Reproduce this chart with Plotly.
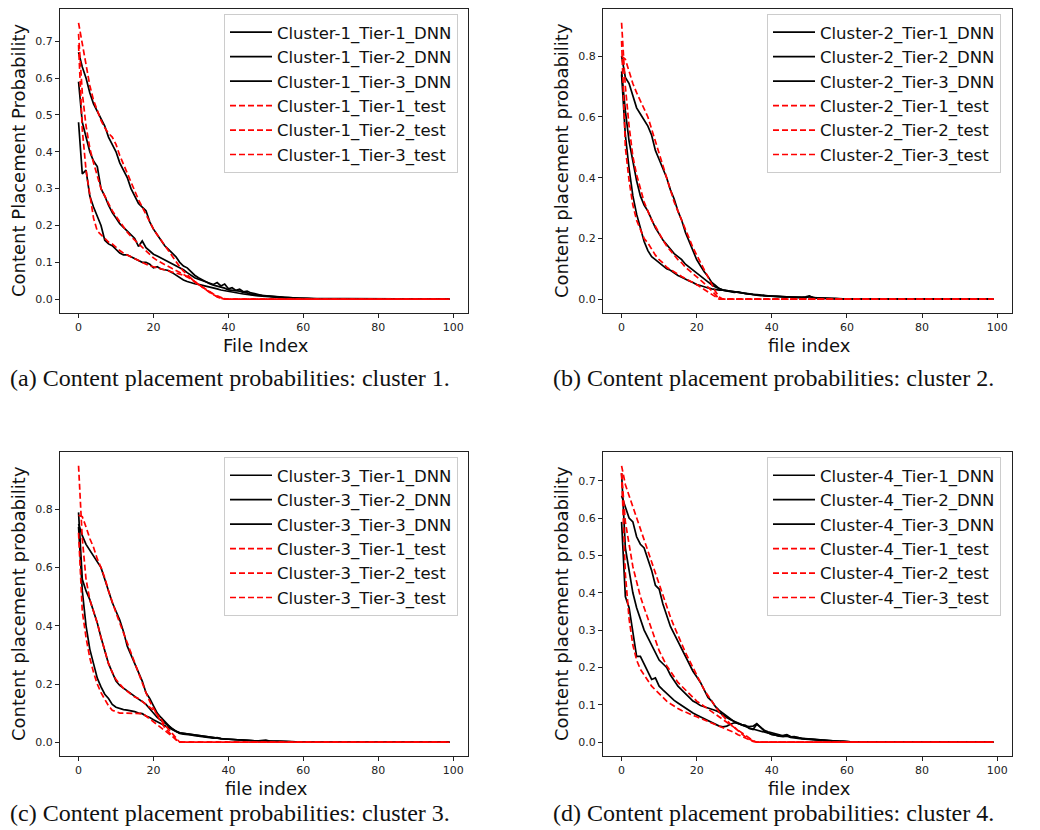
import plotly.graph_objects as go

# ---------------- data: placement probability per file index ----------------
# Each list starts at file index 0; indices past the end of a list are 0.
c1_t1_dnn = [0.67, 0.63, 0.60, 0.56, 0.53, 0.51, 0.49, 0.47, 0.44, 0.42, 0.40, 0.37, 0.35, 0.33, 0.30, 0.28,
             0.26, 0.25, 0.24, 0.21, 0.19, 0.175, 0.16, 0.145, 0.135, 0.125, 0.115, 0.10, 0.09, 0.085, 0.075,
             0.065, 0.058, 0.052, 0.047, 0.042, 0.038, 0.036, 0.032, 0.03, 0.025, 0.024, 0.021, 0.022, 0.018,
             0.017, 0.013, 0.012, 0.01, 0.009, 0.008, 0.007, 0.008, 0.006, 0.005, 0.004, 0.004, 0.003, 0.003,
             0.002, 0.002, 0.002, 0.001, 0.001, 0.001, 0.0]
c1_t2_dnn = [0.59, 0.48, 0.44, 0.40, 0.375, 0.36, 0.30, 0.28, 0.255, 0.235, 0.22, 0.205, 0.195, 0.185, 0.175,
             0.165, 0.143, 0.158, 0.14, 0.13, 0.122, 0.117, 0.112, 0.107, 0.102, 0.097, 0.092, 0.087, 0.08,
             0.072, 0.064, 0.058, 0.054, 0.05, 0.046, 0.043, 0.04, 0.045, 0.036, 0.041, 0.028, 0.031, 0.024,
             0.027, 0.02, 0.022, 0.017, 0.015, 0.012, 0.01, 0.009, 0.008, 0.007, 0.006, 0.005, 0.004, 0.004,
             0.003, 0.003, 0.002, 0.002, 0.001, 0.001, 0.001, 0.0]
c1_t3_dnn = [0.48, 0.34, 0.35, 0.28, 0.25, 0.225, 0.20, 0.16, 0.15, 0.145, 0.135, 0.125, 0.12, 0.12, 0.115,
             0.11, 0.105, 0.10, 0.10, 0.095, 0.085, 0.088, 0.082, 0.08, 0.078, 0.072, 0.065, 0.058, 0.052,
             0.048, 0.044, 0.042, 0.04, 0.038, 0.035, 0.033, 0.03, 0.028, 0.025, 0.023, 0.02, 0.019, 0.017,
             0.016, 0.014, 0.013, 0.011, 0.01, 0.009, 0.008, 0.007, 0.006, 0.005, 0.005, 0.004, 0.003, 0.003,
             0.002, 0.002, 0.002, 0.001, 0.001, 0.001, 0.001, 0.0]
c1_t1_test = [0.75, 0.69, 0.63, 0.58, 0.54, 0.51, 0.485, 0.465, 0.45, 0.44, 0.42, 0.39, 0.365, 0.34, 0.315,
              0.29, 0.27, 0.25, 0.23, 0.21, 0.19, 0.175, 0.16, 0.145, 0.13, 0.115, 0.10, 0.088, 0.076, 0.066,
              0.056, 0.048, 0.04, 0.033, 0.026, 0.02, 0.014, 0.009, 0.005, 0.001, 0.0]
c1_t2_test = [0.72, 0.56, 0.47, 0.41, 0.37, 0.335, 0.30, 0.28, 0.26, 0.24, 0.225, 0.21, 0.195, 0.182, 0.17,
              0.16, 0.15, 0.14, 0.13, 0.12, 0.112, 0.105, 0.099, 0.093, 0.088, 0.083, 0.078, 0.073, 0.068,
              0.062, 0.056, 0.048, 0.04, 0.032, 0.025, 0.018, 0.012, 0.006, 0.002, 0.0]
c1_t3_test = [0.69, 0.46, 0.35, 0.28, 0.22, 0.185, 0.175, 0.165, 0.155, 0.15, 0.14, 0.132, 0.125, 0.12, 0.115,
              0.11, 0.105, 0.10, 0.095, 0.09, 0.088, 0.085, 0.083, 0.08, 0.078, 0.075, 0.072, 0.068, 0.065,
              0.06, 0.055, 0.047, 0.04, 0.033, 0.026, 0.019, 0.012, 0.006, 0.002, 0.0]

c2_t1_dnn = [0.80, 0.73, 0.71, 0.67, 0.63, 0.61, 0.59, 0.57, 0.54, 0.49, 0.46, 0.43, 0.40, 0.36, 0.33, 0.29,
             0.26, 0.22, 0.19, 0.16, 0.13, 0.11, 0.09, 0.075, 0.055, 0.045, 0.035, 0.03, 0.028, 0.025, 0.022,
             0.024, 0.02, 0.018, 0.017, 0.015, 0.014, 0.013, 0.012, 0.011, 0.01, 0.01, 0.009, 0.008, 0.008,
             0.007, 0.007, 0.006, 0.006, 0.008, 0.011, 0.005, 0.004, 0.004, 0.003, 0.003, 0.002, 0.002, 0.001,
             0.001, 0.0]
c2_t2_dnn = [0.75, 0.62, 0.52, 0.45, 0.39, 0.34, 0.31, 0.29, 0.26, 0.235, 0.215, 0.195, 0.18, 0.165, 0.15,
             0.14, 0.13, 0.115, 0.105, 0.095, 0.085, 0.075, 0.065, 0.055, 0.047, 0.04, 0.035, 0.03, 0.028,
             0.026, 0.023, 0.021, 0.02, 0.018, 0.016, 0.015, 0.013, 0.012, 0.011, 0.01, 0.01, 0.009, 0.008,
             0.008, 0.007, 0.007, 0.006, 0.006, 0.005, 0.005, 0.009, 0.005, 0.004, 0.004, 0.003, 0.003, 0.002,
             0.002, 0.001, 0.001, 0.0]
c2_t3_dnn = [0.74, 0.54, 0.43, 0.34, 0.28, 0.23, 0.19, 0.16, 0.14, 0.13, 0.12, 0.11, 0.10, 0.095, 0.085,
             0.078, 0.072, 0.065, 0.06, 0.055, 0.048, 0.045, 0.04, 0.037, 0.034, 0.031, 0.03, 0.03, 0.028,
             0.026, 0.024, 0.022, 0.02, 0.019, 0.017, 0.016, 0.015, 0.013, 0.012, 0.011, 0.01, 0.01, 0.009,
             0.008, 0.008, 0.007, 0.006, 0.006, 0.005, 0.005, 0.008, 0.005, 0.004, 0.003, 0.003, 0.002, 0.002,
             0.001, 0.001, 0.001, 0.0]
c2_t1_test = [0.80, 0.79, 0.75, 0.71, 0.68, 0.655, 0.63, 0.60, 0.56, 0.52, 0.48, 0.44, 0.40, 0.36, 0.32,
              0.29, 0.26, 0.225, 0.20, 0.17, 0.145, 0.12, 0.10, 0.07, 0.045, 0.025, 0.007, 0.0]
c2_t2_test = [0.91, 0.70, 0.57, 0.47, 0.41, 0.36, 0.32, 0.29, 0.26, 0.24, 0.215, 0.195, 0.175, 0.16, 0.145,
              0.13, 0.12, 0.105, 0.095, 0.085, 0.075, 0.065, 0.052, 0.04, 0.028, 0.015, 0.0]
c2_t3_test = [0.85, 0.50, 0.39, 0.31, 0.26, 0.23, 0.20, 0.185, 0.165, 0.145, 0.13, 0.12, 0.105, 0.097, 0.09,
              0.082, 0.075, 0.068, 0.062, 0.055, 0.048, 0.04, 0.032, 0.025, 0.017, 0.009, 0.0]

c3_t1_dnn = [0.75, 0.71, 0.68, 0.66, 0.64, 0.62, 0.60, 0.56, 0.52, 0.48, 0.45, 0.42, 0.38, 0.33, 0.30, 0.27,
             0.24, 0.21, 0.17, 0.15, 0.125, 0.10, 0.085, 0.07, 0.058, 0.045, 0.037, 0.03, 0.028, 0.027, 0.025,
             0.022, 0.02, 0.018, 0.016, 0.015, 0.014, 0.016, 0.012, 0.011, 0.01, 0.009, 0.008, 0.007, 0.007,
             0.006, 0.006, 0.005, 0.005, 0.005, 0.007, 0.004, 0.004, 0.003, 0.003, 0.002, 0.002, 0.002, 0.001,
             0.001, 0.0]
c3_t2_dnn = [0.79, 0.56, 0.52, 0.49, 0.45, 0.41, 0.36, 0.31, 0.27, 0.24, 0.21, 0.195, 0.185, 0.175, 0.165,
             0.155, 0.148, 0.14, 0.13, 0.115, 0.10, 0.085, 0.075, 0.065, 0.055, 0.045, 0.038, 0.032, 0.03,
             0.028, 0.026, 0.024, 0.022, 0.02, 0.018, 0.016, 0.014, 0.013, 0.012, 0.011, 0.01, 0.009, 0.008,
             0.008, 0.007, 0.006, 0.006, 0.005, 0.005, 0.004, 0.005, 0.004, 0.003, 0.003, 0.002, 0.002, 0.002,
             0.001, 0.001, 0.001, 0.0]
c3_t3_dnn = [0.74, 0.52, 0.40, 0.32, 0.27, 0.22, 0.19, 0.165, 0.15, 0.13, 0.12, 0.115, 0.112, 0.11, 0.108,
             0.105, 0.10, 0.098, 0.09, 0.085, 0.077, 0.07, 0.063, 0.056, 0.05, 0.043, 0.037, 0.032, 0.03, 0.028,
             0.026, 0.024, 0.022, 0.02, 0.018, 0.016, 0.015, 0.013, 0.012, 0.011, 0.01, 0.009, 0.008, 0.007,
             0.007, 0.006, 0.006, 0.005, 0.005, 0.004, 0.004, 0.003, 0.003, 0.003, 0.002, 0.002, 0.002, 0.001,
             0.001, 0.001, 0.0]
c3_t1_test = [0.78, 0.775, 0.74, 0.70, 0.67, 0.63, 0.60, 0.565, 0.52, 0.48, 0.445, 0.41, 0.375, 0.34, 0.31,
              0.27, 0.235, 0.20, 0.17, 0.14, 0.115, 0.09, 0.07, 0.05, 0.035, 0.02, 0.008, 0.0]
c3_t2_test = [0.95, 0.70, 0.56, 0.49, 0.45, 0.41, 0.36, 0.31, 0.27, 0.24, 0.215, 0.20, 0.185, 0.175, 0.165,
              0.155, 0.15, 0.14, 0.13, 0.12, 0.11, 0.095, 0.08, 0.06, 0.045, 0.03, 0.015, 0.0]
c3_t3_test = [0.72, 0.45, 0.36, 0.29, 0.24, 0.20, 0.17, 0.145, 0.125, 0.11, 0.105, 0.10, 0.10, 0.10, 0.10,
              0.10, 0.10, 0.098, 0.09, 0.08, 0.07, 0.06, 0.05, 0.04, 0.03, 0.018, 0.007, 0.0]

c4_t1_dnn = [0.66, 0.63, 0.60, 0.59, 0.55, 0.53, 0.52, 0.49, 0.46, 0.42, 0.41, 0.37, 0.34, 0.31, 0.29, 0.27,
             0.25, 0.23, 0.21, 0.19, 0.175, 0.16, 0.14, 0.12, 0.11, 0.095, 0.085, 0.077, 0.07, 0.063, 0.055,
             0.05, 0.046, 0.043, 0.042, 0.043, 0.05, 0.04, 0.03, 0.025, 0.02, 0.019, 0.016, 0.018, 0.02, 0.015,
             0.014, 0.012, 0.01, 0.009, 0.008, 0.007, 0.006, 0.005, 0.004, 0.004, 0.003, 0.003, 0.002, 0.002,
             0.001, 0.001, 0.0]
c4_t2_dnn = [0.72, 0.52, 0.46, 0.40, 0.36, 0.33, 0.30, 0.28, 0.26, 0.24, 0.22, 0.21, 0.20, 0.18, 0.165, 0.15,
             0.14, 0.13, 0.12, 0.11, 0.105, 0.098, 0.095, 0.092, 0.088, 0.085, 0.08, 0.072, 0.066, 0.06, 0.055,
             0.05, 0.047, 0.045, 0.037, 0.034, 0.048, 0.04, 0.032, 0.028, 0.025, 0.022, 0.02, 0.017, 0.019,
             0.014, 0.015, 0.012, 0.01, 0.009, 0.008, 0.007, 0.006, 0.005, 0.005, 0.004, 0.003, 0.003, 0.002,
             0.002, 0.001, 0.001, 0.0]
c4_t3_dnn = [0.59, 0.39, 0.36, 0.30, 0.23, 0.23, 0.21, 0.19, 0.168, 0.172, 0.15, 0.14, 0.13, 0.12, 0.112,
             0.105, 0.098, 0.09, 0.085, 0.078, 0.073, 0.068, 0.063, 0.058, 0.053, 0.048, 0.043, 0.041, 0.043,
             0.048, 0.052, 0.05, 0.045, 0.042, 0.038, 0.035, 0.032, 0.03, 0.026, 0.023, 0.02, 0.018, 0.016,
             0.015, 0.016, 0.013, 0.011, 0.01, 0.009, 0.008, 0.008, 0.007, 0.006, 0.005, 0.004, 0.004, 0.003,
             0.003, 0.002, 0.002, 0.001, 0.001, 0.0]
c4_t1_test = [0.74, 0.69, 0.66, 0.63, 0.60, 0.57, 0.54, 0.51, 0.48, 0.45, 0.42, 0.39, 0.36, 0.335, 0.31,
              0.285, 0.26, 0.24, 0.22, 0.20, 0.18, 0.16, 0.14, 0.125, 0.11, 0.095, 0.08, 0.07, 0.058, 0.048,
              0.04, 0.03, 0.022, 0.014, 0.008, 0.003, 0.0]
c4_t2_test = [0.72, 0.59, 0.53, 0.47, 0.43, 0.39, 0.36, 0.33, 0.30, 0.27, 0.245, 0.225, 0.205, 0.19, 0.175,
              0.16, 0.15, 0.14, 0.13, 0.12, 0.11, 0.103, 0.096, 0.089, 0.082, 0.075, 0.068, 0.061, 0.054, 0.047,
              0.04, 0.032, 0.025, 0.018, 0.01, 0.004, 0.0]
c4_t3_test = [0.72, 0.45, 0.33, 0.26, 0.22, 0.195, 0.18, 0.165, 0.15, 0.14, 0.13, 0.12, 0.11, 0.103, 0.096,
              0.09, 0.085, 0.08, 0.076, 0.072, 0.068, 0.064, 0.06, 0.056, 0.052, 0.048, 0.044, 0.04, 0.036,
              0.031, 0.026, 0.02, 0.015, 0.01, 0.005, 0.002, 0.0]

N_FILES = 100
file_index = list(range(N_FILES))

panels = [
    dict(cluster=1, dnn=[c1_t1_dnn, c1_t2_dnn, c1_t3_dnn], test=[c1_t1_test, c1_t2_test, c1_t3_test],
         ylabel="Content Placement Probability", xlabel="File Index", dtick=0.1,
         caption="(a) Content placement probabilities: cluster 1."),
    dict(cluster=2, dnn=[c2_t1_dnn, c2_t2_dnn, c2_t3_dnn], test=[c2_t1_test, c2_t2_test, c2_t3_test],
         ylabel="Content placement probability", xlabel="file index", dtick=0.2,
         caption="(b) Content placement probabilities: cluster 2."),
    dict(cluster=3, dnn=[c3_t1_dnn, c3_t2_dnn, c3_t3_dnn], test=[c3_t1_test, c3_t2_test, c3_t3_test],
         ylabel="Content placement probability", xlabel="file index", dtick=0.2,
         caption="(c) Content placement probabilities: cluster 3."),
    dict(cluster=4, dnn=[c4_t1_dnn, c4_t2_dnn, c4_t3_dnn], test=[c4_t1_test, c4_t2_test, c4_t3_test],
         ylabel="Content placement probability", xlabel="file index", dtick=0.1,
         caption="(d) Content placement probabilities: cluster 4."),
]

# ---------------- layout geometry (pixels) ----------------
W, H = 1040, 830
FONT = "DejaVu Sans"
# plot frames: (left, right, top, bottom) and caption centre line
frames = [(60, 468, 9, 313), (603, 1012, 9, 313), (60, 468, 452, 756), (603, 1012, 452, 756)]
caption_y = [378, 378, 813, 813]


def px_x(v):
    return v / W


def px_y(v):
    return 1 - v / H


def full(vals):
    return vals + [0.0] * (N_FILES - len(vals))


fig = go.Figure()
annotations = []
layout = {}

for i, (p, (l, r, t, b)) in enumerate(zip(panels, frames)):
    n = i + 1
    sx = "" if n == 1 else str(n)
    xa, ya = "x" + sx, "y" + sx
    leg = "legend" + sx
    c = p["cluster"]
    traces = []
    for k, vals in enumerate(p["dnn"]):
        traces.append((f"Cluster-{c}_Tier-{k + 1}_DNN", vals, dict(color="black", width=1.7)))
    for k, vals in enumerate(p["test"]):
        traces.append((f"Cluster-{c}_Tier-{k + 1}_test", vals,
                       dict(color="red", width=1.7, dash="6px,3px")))
    for j, (name, vals, line) in enumerate(traces):
        fig.add_trace(go.Scatter(x=file_index, y=full(vals), mode="lines", name=name, line=line,
                                 xaxis=xa, yaxis=ya, legend=leg, legendgroup=f"{n}-{j}"))

    ymax = max(max(v) for v in p["dnn"] + p["test"])
    axis_common = dict(showline=True, mirror=True, linecolor="#222", linewidth=1, showgrid=False,
                       zeroline=False, ticks="outside", ticklen=4, tickcolor="#222",
                       tickfont=dict(family=FONT, size=11, color="#222"))
    layout["xaxis" + sx] = dict(domain=[px_x(l), px_x(r)], anchor=ya, range=[-4.95, 103.95],
                                tickmode="linear", tick0=0, dtick=20, **axis_common)
    layout["yaxis" + sx] = dict(domain=[px_y(b), px_y(t)], anchor=xa, range=[-0.05 * ymax, 1.05 * ymax],
                                tickmode="linear", tick0=0, dtick=p["dtick"], tickformat=".1f",
                                **axis_common)
    layout[leg] = dict(x=px_x(l + 164), y=px_y(t + 5), xanchor="left", yanchor="top",
                       bgcolor="rgba(255,255,255,0.85)", bordercolor="#cccccc", borderwidth=1,
                       font=dict(family=FONT, size=16.5, color="#111"), tracegroupgap=0,
                       itemwidth=42)

    annotations.append(dict(text=p["ylabel"], x=px_x(l - 42), y=px_y((t + b) / 2), xref="paper",
                            yref="paper", xanchor="center", yanchor="middle", textangle=-90,
                            showarrow=False, font=dict(family=FONT, size=18, color="#111")))
    annotations.append(dict(text=p["xlabel"], x=px_x((l + r) / 2 + 2), y=px_y(b + 32), xref="paper",
                            yref="paper", xanchor="center", yanchor="middle", showarrow=False,
                            font=dict(family=FONT, size=18, color="#111")))
    annotations.append(dict(text=p["caption"], x=px_x(l - 52), y=px_y(caption_y[i]), xref="paper",
                            yref="paper", xanchor="left", yanchor="middle", showarrow=False,
                            font=dict(family="Liberation Serif", size=24, color="#111")))

fig.update_layout(width=W, height=H, margin=dict(l=0, r=0, t=0, b=0), paper_bgcolor="white",
                  plot_bgcolor="white", annotations=annotations, **layout)

fig.write_html("out.html")
